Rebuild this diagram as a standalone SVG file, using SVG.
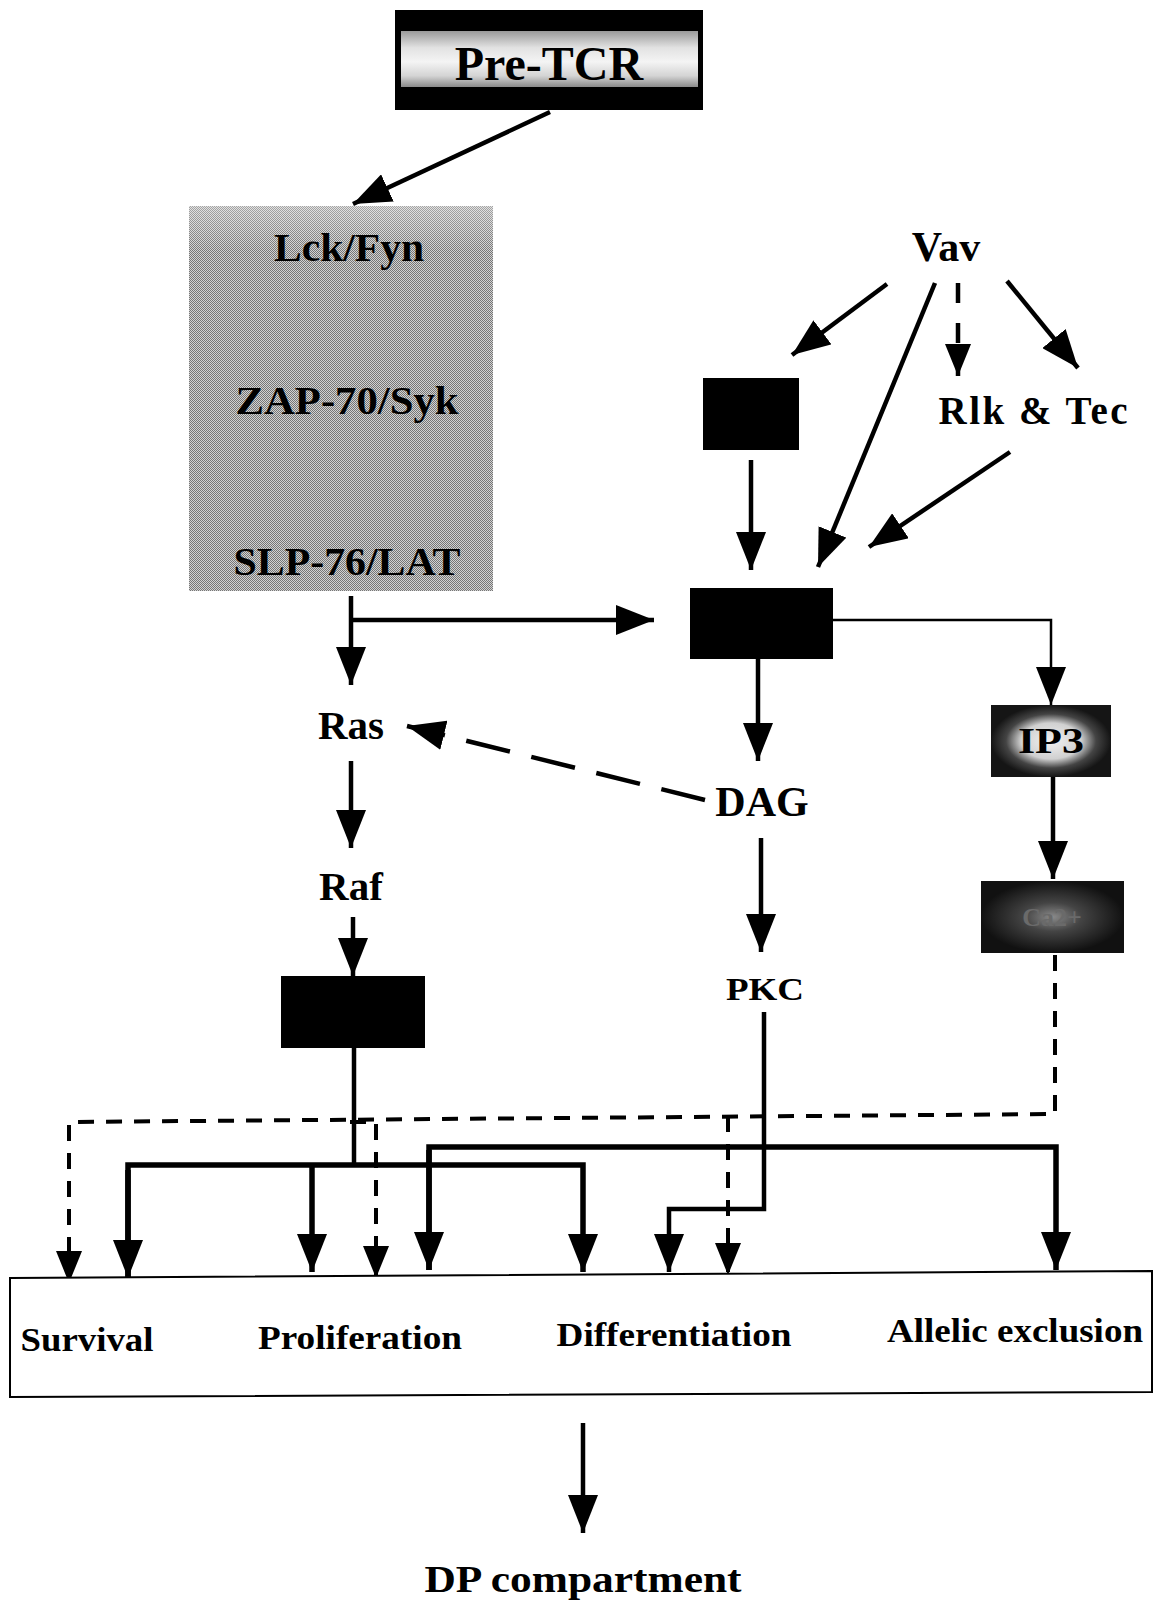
<svg xmlns="http://www.w3.org/2000/svg" width="1159" height="1603" viewBox="0 0 1159 1603">
<defs>
<style>
.lbl{font-family:"Liberation Serif","Times New Roman",serif;font-weight:bold;fill:#000;text-anchor:middle}
.ln{stroke:#000;stroke-width:4.5;fill:none}
.thk{stroke:#000;stroke-width:5.5;fill:none}
.thin{stroke:#000;stroke-width:2.5;fill:none}
.dsh{stroke:#000;stroke-width:4;fill:none;stroke-dasharray:16 12}
.blk{fill:#000}
</style>
<marker id="ah" viewBox="0 0 38 30" refX="38" refY="15" markerWidth="38" markerHeight="30" markerUnits="userSpaceOnUse" orient="auto"><path d="M0,0 L38,15 L0,30 z" fill="#000"/></marker>
<marker id="ahs" viewBox="0 0 32 26" refX="32" refY="13" markerWidth="32" markerHeight="26" markerUnits="userSpaceOnUse" orient="auto"><path d="M0,0 L32,13 L0,26 z" fill="#000"/></marker>
<pattern id="dither" width="2" height="2" patternUnits="userSpaceOnUse"><rect width="2" height="2" fill="#d2d2d2"/><rect width="1" height="1" fill="#767676"/><rect x="1" y="1" width="1" height="1" fill="#767676"/></pattern>
<linearGradient id="topfade" x1="0" y1="0" x2="0" y2="1"><stop offset="0" stop-color="#fff" stop-opacity="0.35"/><stop offset="1" stop-color="#fff" stop-opacity="0"/></linearGradient>
<linearGradient id="band" x1="0" y1="0" x2="0" y2="1"><stop offset="0" stop-color="#9a9a9a"/><stop offset="0.3" stop-color="#e2e2e2"/><stop offset="0.55" stop-color="#f4f4f4"/><stop offset="0.8" stop-color="#d4d4d4"/><stop offset="1" stop-color="#8a8a8a"/></linearGradient>
<radialGradient id="glow" cx="0.5" cy="0.5" r="0.5"><stop offset="0" stop-color="#f2f2f2"/><stop offset="0.5" stop-color="#d0d0d0"/><stop offset="0.75" stop-color="#444"/><stop offset="1" stop-color="#151515"/></radialGradient>
<radialGradient id="glow2" cx="0.5" cy="0.5" r="0.5"><stop offset="0" stop-color="#8a8a8a"/><stop offset="0.4" stop-color="#444"/><stop offset="1" stop-color="#111"/></radialGradient>
</defs>

<g id="connectors">
  <line class="ln" x1="550" y1="112" x2="353" y2="204" marker-end="url(#ah)"/>
  <line class="ln" x1="350" y1="281" x2="350" y2="363" marker-end="url(#ah)"/>
  <line class="ln" x1="350" y1="439" x2="350" y2="526" marker-end="url(#ah)"/>
  <line class="ln" x1="351" y1="596" x2="351" y2="685" marker-end="url(#ah)"/>
  <line class="ln" x1="351" y1="620" x2="654" y2="620" marker-end="url(#ah)"/>
  <line class="ln" x1="705" y1="800" x2="407" y2="726" stroke-width="5.5" stroke-dasharray="45 22" marker-end="url(#ah)"/>
  <line class="ln" x1="351" y1="761" x2="351" y2="848" marker-end="url(#ah)"/>
  <line class="ln" x1="353" y1="917" x2="353" y2="976" marker-end="url(#ah)"/>
  <line class="ln" x1="887" y1="284" x2="792" y2="355" marker-end="url(#ah)"/>
  <line class="ln" x1="935" y1="283" x2="818" y2="567" marker-end="url(#ah)"/>
  <line class="ln" x1="958" y1="283" x2="958" y2="376" stroke-dasharray="20 20" marker-end="url(#ahs)"/>
  <line class="ln" x1="1007" y1="281" x2="1078" y2="368" marker-end="url(#ah)"/>
  <line class="ln" x1="751" y1="460" x2="751" y2="570" marker-end="url(#ah)"/>
  <line class="ln" x1="1010" y1="452" x2="869" y2="547" marker-end="url(#ah)"/>
  <line class="ln" x1="758" y1="659" x2="758" y2="761" marker-end="url(#ah)"/>
  <line class="ln" x1="761" y1="838" x2="761" y2="952" marker-end="url(#ah)"/>
  <polyline class="thin" points="833,620 1051,620 1051,705" marker-end="url(#ah)"/>
  <line class="ln" x1="1053" y1="777" x2="1053" y2="879" marker-end="url(#ah)"/>
  <polyline class="dsh" points="1055,955 1055,1114 69,1122 69,1283" stroke-dasharray="30 16" marker-end="url(#ahs)"/>
  <polyline class="dsh" points="350,1122 376,1122 376,1278" marker-end="url(#ahs)"/>
  <polyline class="dsh" points="728,1116 728,1275" marker-end="url(#ahs)"/>
  <line class="ln" x1="354" y1="1048" x2="354" y2="1165"/>
  <polyline class="thk" points="128,1278 128,1165 583,1165 583,1272" marker-end="url(#ah)"/>
  <line class="thk" x1="312" y1="1165" x2="312" y2="1272" marker-end="url(#ah)"/>
  <polyline class="thk" points="429,1270 429,1147 1056,1147 1056,1270" marker-end="url(#ah)"/>
  <line class="thk" x1="128" y1="1170" x2="128" y2="1278" marker-end="url(#ah)"/>
  <line class="thk" x1="429" y1="1150" x2="429" y2="1270" marker-end="url(#ah)"/>
  <polyline class="ln" points="764,1012 764,1209 669,1209 669,1272" marker-end="url(#ah)"/>
  <line class="ln" x1="583" y1="1423" x2="583" y2="1533" marker-end="url(#ah)"/>
</g>

<g id="pretcr">
  <rect x="395" y="10" width="308" height="100" class="blk"/>
  <rect x="401" y="31" width="297" height="56" fill="url(#band)"/>
  <text class="lbl" x="549" y="80" font-size="48">Pre-TCR</text>
</g>

<g id="kinase-box">
  <rect x="189" y="206" width="304" height="385" fill="url(#dither)"/>
  <rect x="189" y="206" width="304" height="45" fill="url(#topfade)"/>
  <text class="lbl" x="349" y="261" font-size="40" textLength="150" lengthAdjust="spacingAndGlyphs">Lck/Fyn</text>
  <text class="lbl" x="347" y="414" font-size="40" textLength="223" lengthAdjust="spacingAndGlyphs">ZAP-70/Syk</text>
  <text class="lbl" x="347" y="575" font-size="40" textLength="227" lengthAdjust="spacingAndGlyphs">SLP-76/LAT</text>
</g>

<g id="vav"><text class="lbl" x="946" y="261" font-size="42">Vav</text></g>
<g id="small-box"><rect x="703" y="378" width="96" height="72" class="blk"/></g>
<g id="rlk-tec"><text class="lbl" x="1033" y="424" font-size="39" textLength="189" lengthAdjust="spacing">Rlk &amp; Tec</text></g>
<g id="plc-box"><rect x="690" y="588" width="143" height="71" class="blk"/></g>
<g id="ras"><text class="lbl" x="351" y="739" font-size="41">Ras</text></g>
<g id="raf"><text class="lbl" x="351" y="900" font-size="41">Raf</text></g>
<g id="erk-box"><rect x="281" y="976" width="144" height="72" class="blk"/></g>
<g id="dag"><text class="lbl" x="762" y="816" font-size="42">DAG</text></g>
<g id="pkc"><text class="lbl" x="765" y="1000" font-size="31" textLength="78" lengthAdjust="spacingAndGlyphs">PKC</text></g>
<g id="ip3">
  <rect x="991" y="705" width="120" height="72" fill="url(#glow)"/>
  <text class="lbl" x="1051" y="753" font-size="36" textLength="66" lengthAdjust="spacingAndGlyphs">IP3</text>
</g>
<g id="ca">
  <rect x="981" y="881" width="143" height="72" fill="url(#glow2)"/>
  <text class="lbl" x="1052" y="926" font-size="26" style="fill:#6a6a6a">Ca2+</text>
</g>

<g id="outcomes">
  <polygon points="10,1278 1152,1271 1152,1392 10,1397" fill="#fff" stroke="#000" stroke-width="2"/>
  <text class="lbl" x="87" y="1351" font-size="33" textLength="133" lengthAdjust="spacingAndGlyphs">Survival</text>
  <text class="lbl" x="360" y="1349" font-size="33" textLength="204" lengthAdjust="spacingAndGlyphs">Proliferation</text>
  <text class="lbl" x="674" y="1346" font-size="33" textLength="235" lengthAdjust="spacingAndGlyphs">Differentiation</text>
  <text class="lbl" x="1015" y="1342" font-size="33" textLength="256" lengthAdjust="spacingAndGlyphs">Allelic exclusion</text>
</g>

<g id="dp"><text class="lbl" x="583" y="1592" font-size="38" textLength="317" lengthAdjust="spacingAndGlyphs">DP compartment</text></g>
</svg>
